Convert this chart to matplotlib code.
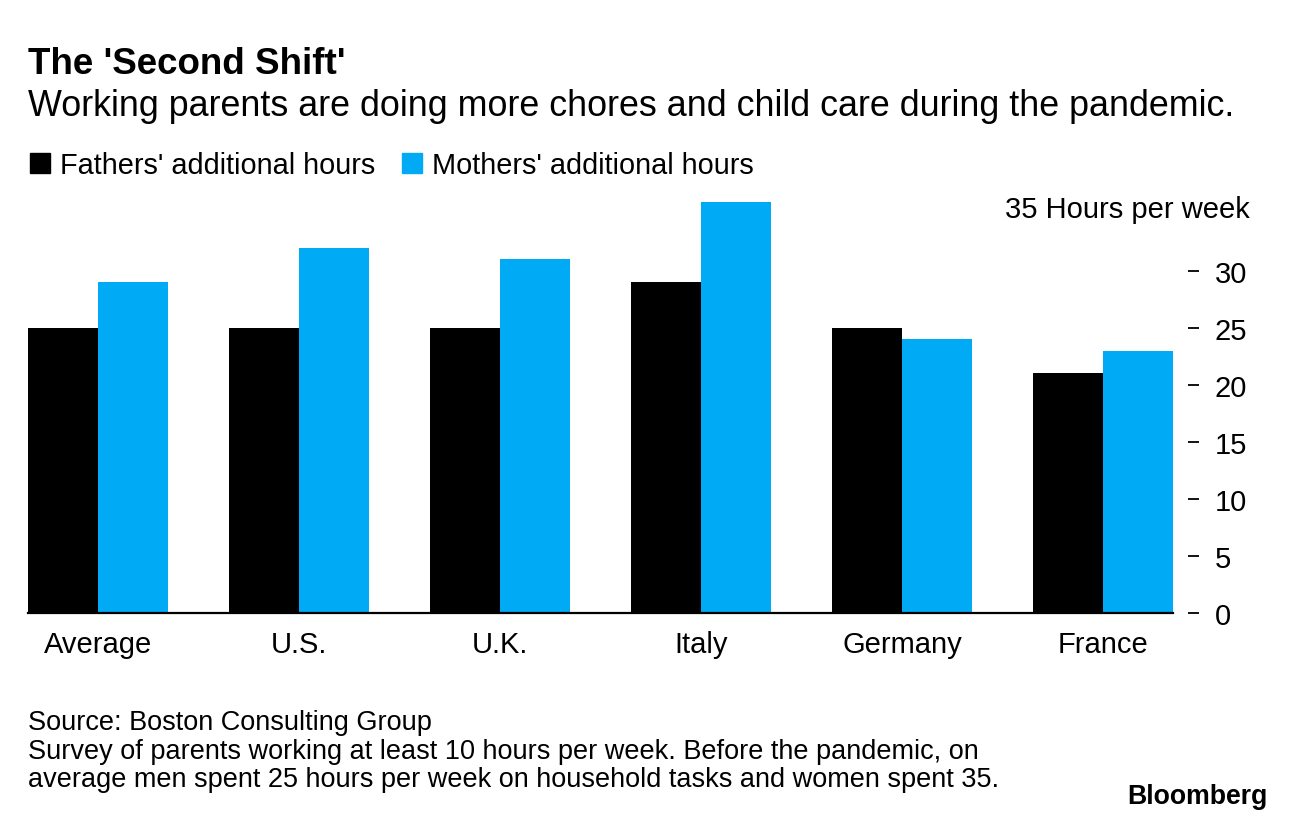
import matplotlib
matplotlib.use("Agg")
import matplotlib.pyplot as plt
import matplotlib.transforms as mtransforms
from matplotlib.patches import Patch
import numpy as np

plt.rcParams['font.family'] = ['Liberation Sans', 'DejaVu Sans']

# data
countries = ['Average', 'U.S.', 'U.K.', 'Italy', 'Germany', 'France']
fathers = [25, 25, 25, 29, 25, 21]
mothers = [29, 32, 31, 36, 24, 23]
yticks = [0, 5, 10, 15, 20, 25, 30]

black = '#000000'
blue = '#00AAF5'

fig = plt.figure(figsize=(12.96, 8.2), dpi=100)
ax = fig.add_axes([28 / 1296, 1 - 614 / 820, (1173 - 28) / 1296, (614 - 201) / 820])

x = np.arange(len(countries))
w = 0.348
ax.bar(x - w / 2, fathers, width=w, color=black, label="Fathers' additional hours")
ax.bar(x + w / 2, mothers, width=w, color=blue, label="Mothers' additional hours")

ax.set_xlim(-w, len(countries) - 1 + w)
ax.set_ylim(0, 36.2)

for s in ['top', 'left', 'right']:
    ax.spines[s].set_visible(False)
ax.spines['bottom'].set_linewidth(1.6)
ax.spines['right'].set_position(('outward', 11))

ax.set_xticks(x)
ax.set_xticklabels(countries, fontsize=21)
ax.tick_params(axis='x', length=0, pad=12)

ax.yaxis.tick_right()
ax.set_yticks(yticks)
ax.set_yticklabels([str(t) for t in yticks], fontsize=21)
ax.tick_params(axis='y', direction='out', length=8, width=1.3, pad=11)

# top label
trans = mtransforms.blended_transform_factory(fig.transFigure, ax.transData)
ax.text(1250 / 1296, 35.4, '35 Hours per week', transform=trans, fontsize=21,
        ha='right', va='center')

fig.text(28 / 1296, 1 - 64 / 820, "The 'Second Shift'", fontsize=26.5, fontweight='bold',
         ha='left', va='center')
fig.text(28 / 1296, 1 - 107 / 820,
         'Working parents are doing more chores and child care during the pandemic.',
         fontsize=25.8, ha='left', va='center')

handles = [Patch(color=black, label="Fathers' additional hours"),
           Patch(color=blue, label="Mothers' additional hours")]
fig.legend(handles=handles, loc='center left', bbox_to_anchor=(30 / 1296, 1 - 166 / 820),
           ncol=2, frameon=False, fontsize=20.8, handlelength=0.7, handleheight=0.7,
           handletextpad=0.35, columnspacing=0.9, borderpad=0, borderaxespad=0)

fig.text(28 / 1296, 1 - 723 / 820, 'Source: Boston Consulting Group', fontsize=19.5,
         ha='left', va='center')
fig.text(28 / 1296, 1 - 752 / 820,
         'Survey of parents working at least 10 hours per week. Before the pandemic, on',
         fontsize=19.5, ha='left', va='center')
fig.text(28 / 1296, 1 - 780 / 820,
         'average men spent 25 hours per week on household tasks and women spent 35.',
         fontsize=19.5, ha='left', va='center')
fig.text(1268 / 1296, 1 - 797 / 820, 'Bloomberg', fontsize=19.2, fontweight='bold',
         ha='right', va='center')

fig.savefig('out.png', dpi=100)
